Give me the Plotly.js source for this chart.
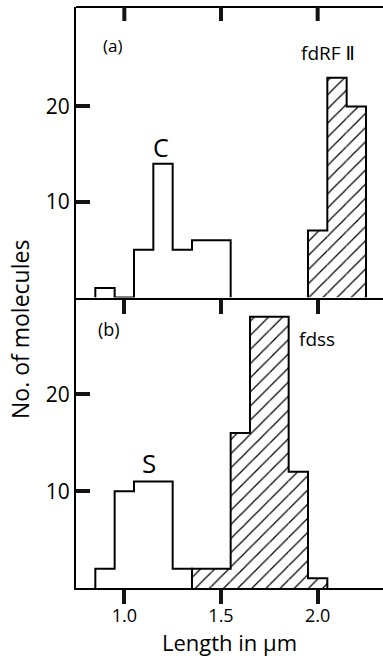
<!DOCTYPE html>
<html>
<head>
<meta charset="utf-8">
<script src="https://cdn.plot.ly/plotly-3.0.1.min.js"></script>
<style>html,body{margin:0;padding:0;background:#fff;}#chart{width:383px;height:658px;}</style>
</head>
<body>
<div id="chart"></div>
<script>
// Bin centres (µm, bin width 0.1) and molecule counts
const binWidth = 0.1;
const aCBins = [0.9, 1.0, 1.1, 1.2, 1.3, 1.4, 1.5];
const aCCounts = [1, 0, 5, 14, 5, 6, 6];
const aFdBins = [2.0, 2.1, 2.2];
const aFdCounts = [7, 23, 20];
const bSBins = [0.9, 1.0, 1.1, 1.2, 1.3];
const bSCounts = [2, 10, 11, 11, 2];
const bFdBins = [1.4, 1.5, 1.6, 1.7, 1.8, 1.9, 2.0];
const bFdCounts = [2, 2, 16, 28, 28, 12, 1];
const xTickVals = [1.0, 1.5, 2.0];
const xTickText = ['1.0', '1.5', '2.0'];
const yTickVals = [10, 20];
const yTickText = ['10', '20'];

const FONT = 'Open Sans, DejaVu Sans, sans-serif';
const TICKW = 4;
const TICKL = 14;
const TICKC = 'rgb(20,20,20)';

function stepOutline(bins, counts, xa, ya) {
  const xs = [bins[0] - binWidth / 2], ys = [0];
  bins.forEach((b, i) => { xs.push(b - binWidth / 2); ys.push(counts[i]); });
  xs.push(bins[bins.length - 1] + binWidth / 2); ys.push(0);
  return {type: 'scatter', mode: 'lines', x: xs, y: ys, xaxis: xa, yaxis: ya,
    line: {color: 'black', width: 2, shape: 'hv'}, hoverinfo: 'skip', showlegend: false};
}
function plainBars(bins, counts, xa, ya) {
  return {type: 'bar', x: bins, y: counts, width: binWidth, xaxis: xa, yaxis: ya,
    marker: {color: 'white', line: {width: 0}}, showlegend: false};
}
function hatchBars(bins, counts, xa, ya) {
  return {type: 'bar', x: bins, y: counts, width: binWidth, xaxis: xa, yaxis: ya,
    marker: {color: 'white', line: {width: 0},
      pattern: {shape: '/', fgcolor: 'black', bgcolor: 'white', size: 10, solidity: 0.12}},
    showlegend: false};
}

const data = [
  plainBars(aCBins, aCCounts, 'x', 'y'),
  hatchBars(aFdBins, aFdCounts, 'x', 'y'),
  stepOutline(aCBins, aCCounts, 'x', 'y'),
  stepOutline(aFdBins, aFdCounts, 'x', 'y'),
  plainBars(bSBins, bSCounts, 'x2', 'y2'),
  hatchBars(bFdBins, bFdCounts, 'x2', 'y2'),
  stepOutline(bSBins, bSCounts, 'x2', 'y2'),
  stepOutline(bFdBins, bFdCounts, 'x2', 'y2')
];

const xRange = [0.75, 2.338];
function xAx(extra) {
  return Object.assign({type: 'linear', range: xRange, showgrid: false, zeroline: false, showline: true,
    linecolor: 'black', linewidth: 2, tickmode: 'array', tickvals: xTickVals, ticktext: xTickText,
    tickcolor: TICKC, tickwidth: TICKW, ticklen: TICKL, showticklabels: false}, extra);
}
function yAx(extra) {
  return Object.assign({type: 'linear', showgrid: false, zeroline: false, showline: true, linecolor: 'black',
    linewidth: 2, tickmode: 'array', tickvals: yTickVals, ticktext: yTickText, ticks: 'inside',
    tickcolor: TICKC, tickwidth: TICKW, ticklen: TICKL,
    tickfont: {family: FONT, size: 21, color: 'black'}}, extra);
}

// top edge of panel (a) and its inward (downward) tick marks at the x tick values
const shapes = [{type: 'line', xref: 'x domain', yref: 'y domain', x0: 0, x1: 1, y0: 1, y1: 1,
  line: {color: 'black', width: 2}}];
xTickVals.forEach(v => {
  shapes.push({type: 'line', xref: 'x', yref: 'y domain', ysizemode: 'pixel', yanchor: 1,
    x0: v, x1: v, y0: 0, y1: -TICKL, line: {color: TICKC, width: TICKW}});
});

const layout = {
  width: 383, height: 658,
  margin: {l: 76, r: 0, t: 7, b: 70},
  paper_bgcolor: 'white', plot_bgcolor: 'white',
  barmode: 'overlay', showlegend: false,
  xaxis: xAx({anchor: 'y', side: 'bottom', ticks: 'outside'}),
  xaxis2: xAx({anchor: 'y2', side: 'bottom', ticks: 'outside', showticklabels: true,
    tickfont: {family: FONT, size: 18, color: 'black'}, ticklabelstandoff: -4,
    title: {text: 'Length in µm', font: {family: FONT, size: 22, color: 'black'}, standoff: 4}}),
  yaxis: yAx({domain: [0.5, 1], anchor: 'x', range: [0, 30.4]}),
  yaxis2: yAx({domain: [0, 0.5], anchor: 'x2', range: [0, 30.0]}),
  shapes: shapes,
  annotations: [
    {text: 'No. of molecules', textangle: -90, xref: 'paper', yref: 'paper',
      x: (20 - 76) / 307, y: (588 - 330) / 581, xanchor: 'center', yanchor: 'middle', showarrow: false,
      font: {family: FONT, size: 23, color: 'black'}},
    {text: '(a)', xref: 'x', yref: 'y', x: 0.94, y: 26.4, showarrow: false,
      font: {family: FONT, size: 17, color: 'black'}},
    {text: 'C', xref: 'x', yref: 'y', x: 1.19, y: 15.7, showarrow: false,
      font: {family: FONT, size: 25, color: 'black'}},
    {text: 'fdRF Ⅱ', xref: 'x', yref: 'y', x: 2.055, y: 25.6, showarrow: false,
      font: {family: FONT, size: 19, color: 'black'}},
    {text: '(b)', xref: 'x2', yref: 'y2', x: 0.92, y: 26.7, showarrow: false,
      font: {family: FONT, size: 18, color: 'black'}},
    {text: 'S', xref: 'x2', yref: 'y2', x: 1.13, y: 12.9, showarrow: false,
      font: {family: FONT, size: 26, color: 'black'}},
    {text: 'fdss', xref: 'x2', yref: 'y2', x: 1.995, y: 25.7, showarrow: false,
      font: {family: FONT, size: 19, color: 'black'}}
  ]
};

Plotly.newPlot('chart', data, layout, {displayModeBar: false});
</script>
</body>
</html>
